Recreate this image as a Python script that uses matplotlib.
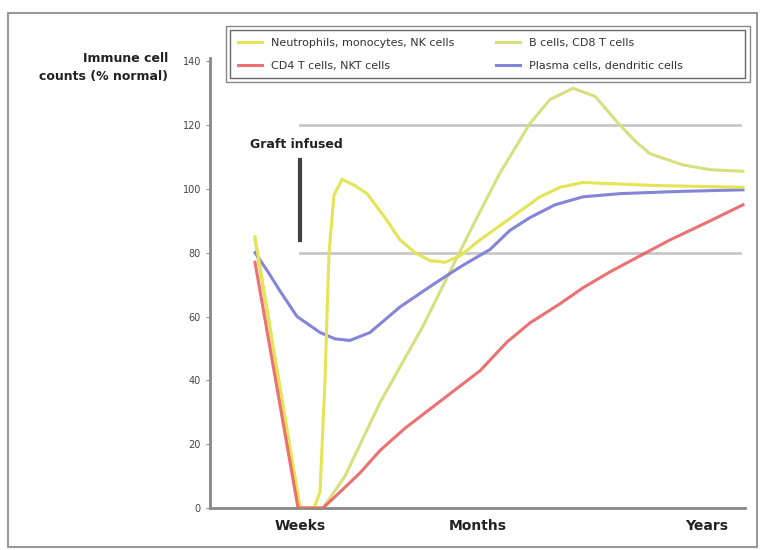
import matplotlib
matplotlib.use("Agg")
import matplotlib.pyplot as plt
from matplotlib.patches import Rectangle

# time axis in arbitrary units (weeks -> months -> years)
neut_x = [45, 90, 104, 110, 115, 119, 124, 132, 145, 157, 175, 190, 205, 220, 235, 250, 270, 290, 310, 330, 350, 373, 410, 450, 533]
neut_y = [85, 0, 0, 5, 40, 80, 98, 103, 101, 98.5, 91, 84, 80, 77.5, 77, 79, 84, 88.5, 93, 97.5, 100.5, 102, 101.5, 101, 100.5]

bcell_x = [45, 90, 113, 135, 170, 213, 243, 267, 290, 320, 340, 363, 385, 407, 425, 440, 473, 500, 533]
bcell_y = [84, 0, 0, 10, 33, 57, 76, 91, 105, 120.5, 128, 131.5, 129, 121, 115, 111, 107.5, 106, 105.5]

cd4_x = [45, 88, 113, 130, 150, 170, 195, 220, 245, 270, 297, 320, 350, 373, 400, 430, 460, 497, 533]
cd4_y = [77, 0, 0, 5, 11, 18, 25, 31, 37, 43, 52, 58, 64, 69, 74, 79, 84, 89.5, 95]

plasma_x = [45, 58, 70, 87, 110, 125, 140, 160, 190, 223, 250, 280, 300, 320, 345, 373, 410, 470, 533]
plasma_y = [80, 74, 68, 60, 55, 53, 52.5, 55, 63, 70, 75.5, 81, 87, 91, 95, 97.5, 98.5, 99.2, 99.7]

xtick_pos = [90, 268, 497]
xtick_labels = ["Weeks", "Months", "Years"]
ytick_vals = [0, 20, 40, 60, 80, 100, 120, 140]
ref_lines = [80, 120]

fig = plt.figure(figsize=(7.6, 5.5), dpi=100)
ax = fig.add_axes([210/760, 1-508/550, 535/760, (508-58)/550])
ax.set_xlim(0, 535)
ax.set_ylim(0, 141)

# reference lines
for r in ref_lines:
    ax.plot([90, 530], [r, r], color="#c8c8c8", lw=2, zorder=1)
ax.plot([90, 90], [84, 109], color="#404040", lw=3, zorder=2)
ax.text(40, 114, "Graft infused", fontsize=9, fontweight="bold", ha="left", va="center", color="#222222")

c_neut = "#e4e455"
c_bcell = "#d6e07e"
c_cd4 = "#e8585a"
c_plasma = "#8484d8"

l1, = ax.plot(neut_x, neut_y, color=c_neut, lw=2.2, zorder=4, label="Neutrophils, monocytes, NK cells")
l3, = ax.plot(bcell_x, bcell_y, color=c_bcell, lw=2.2, zorder=3, label="B cells, CD8 T cells")
l2, = ax.plot(cd4_x, cd4_y, color=c_cd4, lw=2.2, zorder=5, alpha=0.85, label="CD4 T cells, NKT cells")
l4, = ax.plot(plasma_x, plasma_y, color=c_plasma, lw=2.2, zorder=3, label="Plasma cells, dendritic cells")

for s in ["top", "right"]:
    ax.spines[s].set_visible(False)
for s in ["left", "bottom"]:
    ax.spines[s].set_color("#888888")
    ax.spines[s].set_linewidth(2)

ax.set_yticks(ytick_vals)
ax.set_yticklabels([str(v) for v in ytick_vals], fontsize=7, color="#444444")
ax.tick_params(axis="y", length=3, color="#888888")
ax.set_xticks(xtick_pos)
ax.set_xticklabels(xtick_labels, fontsize=10, fontweight="bold", color="#222222")
ax.tick_params(axis="x", length=0, pad=8)

fig.text(168/760, 1-52/550, "Immune cell\ncounts (% normal)", ha="right", va="top",
         fontsize=9, fontweight="bold", color="#222222", linespacing=1.5)

leg = fig.legend(handles=[l1, l2, l3, l4], ncol=2, loc="upper left",
                 bbox_to_anchor=(238/760, 1-38/550),
                 fontsize=8, frameon=False, handlelength=2.2,
                 borderpad=0, labelspacing=1.17, borderaxespad=0, columnspacing=3.7)
for t in leg.get_texts():
    t.set_color("#333333")
fig.add_artist(Rectangle((230/760, 1-78/550), (745-230)/760, (78-30)/550,
                         transform=fig.transFigure, fill=False, edgecolor="#666666", lw=1))
fig.add_artist(Rectangle((226/760, 1-82/550), (750-226)/760, (82-26)/550,
                         transform=fig.transFigure, fill=False, edgecolor="#888888", lw=1))

fig.add_artist(Rectangle((8/760, 1-547/550), (757-8)/760, (547-13)/550,
                         transform=fig.transFigure, fill=False, edgecolor="#999999", lw=1.5))

fig.savefig("out.png", dpi=100)
